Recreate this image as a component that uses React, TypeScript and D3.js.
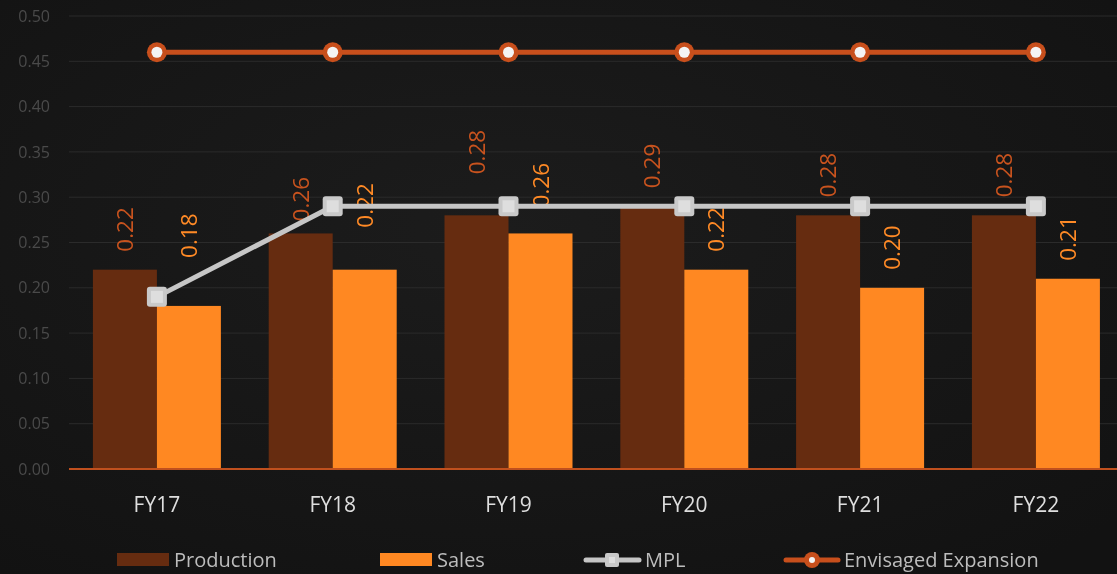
import React from "react";
import * as d3 from "d3";

// values
const categories = ["FY17", "FY18", "FY19", "FY20", "FY21", "FY22"];
const production = [0.22, 0.26, 0.28, 0.29, 0.28, 0.28];
const sales = [0.18, 0.22, 0.26, 0.22, 0.2, 0.21];
const mpl = [0.19, 0.29, 0.29, 0.29, 0.29, 0.29];
const envisaged = [0.46, 0.46, 0.46, 0.46, 0.46, 0.46];
const yTicks = [0, 0.05, 0.1, 0.15, 0.2, 0.25, 0.3, 0.35, 0.4, 0.45, 0.5];

// manual label moves (px upward) as in the source chart
const prodLabelNudge = [0, -6, 23, 0, 0, 0];
const salesLabelNudge = [30, 24, 8, 0, 0, 0];

const W = 1117;
const H = 574;
const FONT = "'Open Sans', 'Noto Sans', sans-serif";

const PROD = "#662c10";
const SALES = "#ff8822";
const MPL_C = "#c6c6c6";
const ENV_C = "#c84f1c";

const App = () => {
  const x = d3.scaleBand().domain(categories).range([69, 69 + 6 * 175.8]).paddingInner(0);
  const y = d3.scaleLinear().domain([0, 0.5]).range([469, 16]);
  const barW = 64;
  const cx = (c: string) => (x(c) as number) + x.bandwidth() / 2;

  const line = d3
    .line<number>()
    .x((_, i) => cx(categories[i]))
    .y((d) => y(d));

  return (
    <div style={{ position: "fixed", left: 0, top: 0 }}>
      <svg width={W} height={H} style={{ display: "block", fontFamily: FONT }}>
        <defs>
          <radialGradient id="bg" cx="45%" cy="40%" r="75%">
            <stop offset="0%" stopColor="#1c1c1c" />
            <stop offset="100%" stopColor="#121212" />
          </radialGradient>
        </defs>
        <rect width={W} height={H} fill="url(#bg)" />

        {/* grid + y ticks */}
        {yTicks.map((t) => (
          <g key={t}>
            {t > 0 && (
              <line x1={69} x2={W} y1={y(t)} y2={y(t)} stroke="#2b2b2b" strokeWidth={1} />
            )}
            <text
              x={50}
              y={y(t)}
              dy="0.35em"
              textAnchor="end"
              fontSize={16}
              fill="#4a4a4a"
            >
              {t.toFixed(2)}
            </text>
          </g>
        ))}

        {/* bars */}
        {categories.map((c, i) => (
          <g key={c}>
            <rect
              x={cx(c) - barW}
              y={y(production[i])}
              width={barW}
              height={y(0) - y(production[i])}
              fill={PROD}
            />
            <rect
              x={cx(c)}
              y={y(sales[i])}
              width={barW}
              height={y(0) - y(sales[i])}
              fill={SALES}
            />
          </g>
        ))}

        {/* baseline */}
        <line x1={69} x2={W} y1={y(0)} y2={y(0)} stroke="#c0501e" strokeWidth={2} />

        {/* data labels */}
        {categories.map((c, i) => {
          const px = cx(c) - barW / 2;
          const py = y(production[i]) - 18 - prodLabelNudge[i];
          const sx = cx(c) + barW / 2;
          const sy = y(sales[i]) - 18 - salesLabelNudge[i];
          return (
            <g key={c}>
              <text
                transform={`translate(${px},${py}) rotate(-90)`}
                dy="0.36em"
                fontSize={22.5}
                fill="#c8531e"
              >
                {production[i].toFixed(2)}
              </text>
              <text
                transform={`translate(${sx},${sy}) rotate(-90)`}
                dy="0.36em"
                fontSize={22.5}
                fill="#ff8a26"
              >
                {sales[i].toFixed(2)}
              </text>
            </g>
          );
        })}

        {/* MPL line */}
        <path d={line(mpl) as string} fill="none" stroke={MPL_C} strokeWidth={5} />
        {mpl.map((v, i) => (
          <g key={i} transform={`translate(${cx(categories[i])},${y(v)})`}>
            <rect x={-10} y={-10} width={20} height={20} rx={3} fill="#c9c9c9" />
            <rect x={-6} y={-6} width={12} height={12} fill="#dedede" />
          </g>
        ))}

        {/* Envisaged expansion line */}
        <path d={line(envisaged) as string} fill="none" stroke={ENV_C} strokeWidth={5} />
        {envisaged.map((v, i) => (
          <g key={i} transform={`translate(${cx(categories[i])},${y(v)})`}>
            <circle r={10} fill={ENV_C} />
            <circle r={5.5} fill="#f4f4f4" />
          </g>
        ))}

        {/* x labels */}
        {categories.map((c) => (
          <text
            key={c}
            x={cx(c)}
            y={505}
            dy="0.35em"
            textAnchor="middle"
            fontSize={21}
            fill="#dedede"
          >
            {c}
          </text>
        ))}

        {/* legend */}
        <g fontSize={20} fill="#bdbdbd">
          <rect x={117} y={553} width={52} height={13} fill={PROD} />
          <text x={174} y={560} dy="0.35em">Production</text>

          <rect x={380} y={553} width={52} height={13} fill={SALES} />
          <text x={437} y={560} dy="0.35em">Sales</text>

          <line x1={586} x2={639} y1={560} y2={560} stroke={MPL_C} strokeWidth={5} strokeLinecap="round" />
          <rect x={605} y={553} width={14} height={14} rx={2} fill="#c9c9c9" />
          <rect x={609} y={557} width={6} height={6} fill="#dedede" />
          <text x={645} y={560} dy="0.35em">MPL</text>

          <line x1={786} x2={838} y1={560} y2={560} stroke={ENV_C} strokeWidth={5} strokeLinecap="round" />
          <circle cx={812} cy={560} r={8} fill={ENV_C} />
          <circle cx={812} cy={560} r={3} fill="#f4f4f4" />
          <text x={844} y={560} dy="0.35em">Envisaged Expansion</text>
        </g>
      </svg>
    </div>
  );
};

export default App;
